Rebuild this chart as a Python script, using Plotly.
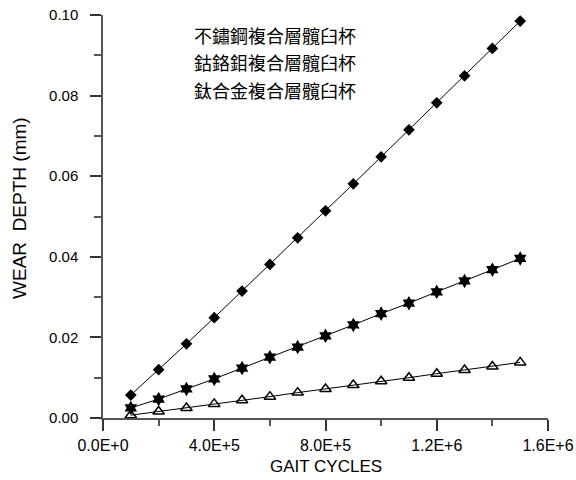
import plotly.graph_objects as go

cycles = [1e5, 2e5, 3e5, 4e5, 5e5, 6e5, 7e5, 8e5, 9e5, 1.0e6, 1.1e6, 1.2e6, 1.3e6, 1.4e6, 1.5e6]
stainless = [0.0057, 0.0120, 0.0184, 0.0249, 0.0315, 0.0381, 0.0447, 0.0514, 0.0581, 0.0648, 0.0715, 0.0782, 0.0849, 0.0917, 0.0985]
cocrmo = [0.0025, 0.0047, 0.0072, 0.0097, 0.0124, 0.0151, 0.0176, 0.0204, 0.0231, 0.0259, 0.0285, 0.0313, 0.0340, 0.0368, 0.0396]
titanium = [0.0007, 0.0016, 0.0025, 0.0035, 0.0044, 0.0053, 0.0063, 0.0072, 0.0082, 0.0091, 0.0100, 0.0110, 0.0119, 0.0128, 0.0138]
names = ["不鏽鋼複合層髖臼杯", "鈷鉻鉬複合層髖臼杯", "鈦合金複合層髖臼杯"]

x_tickvals = [0, 4e5, 8e5, 1.2e6, 1.6e6]
x_ticktext = ["0.0E+0", "4.0E+5", "8.0E+5", "1.2E+6", "1.6E+6"]
x_minor = [2e5, 6e5, 1.0e6, 1.4e6]
y_tickvals = [0.00, 0.02, 0.04, 0.06, 0.08, 0.10]
y_ticktext = ["0.00", "0.02", "0.04", "0.06", "0.08", "0.10"]
y_minor = [0.01, 0.03, 0.05, 0.07, 0.09]
x_title = "GAIT CYCLES"
y_title = "WEAR  DEPTH (mm)"

font_family = "Arial, Liberation Sans, sans-serif"
cjk_font = "Noto Sans CJK TC, sans-serif"

fig = go.Figure()
fig.add_trace(go.Scatter(x=cycles, y=stainless, name=names[0], mode="lines+markers",
                         line=dict(color="black", width=1),
                         marker=dict(symbol="diamond", size=9, color="black")))
fig.add_trace(go.Scatter(x=cycles, y=cocrmo, name=names[1], mode="lines+markers",
                         line=dict(color="black", width=1),
                         marker=dict(symbol="hexagram", size=11, color="black")))
fig.add_trace(go.Scatter(x=cycles, y=titanium, name=names[2], mode="lines+markers",
                         line=dict(color="black", width=1),
                         marker=dict(symbol="triangle-up-open", size=10, color="black",
                                     line=dict(width=1.5, color="black"))))

ann_y = [0.95, 0.884, 0.814]
for name, yy in zip(names, ann_y):
    fig.add_annotation(text=name, xref="paper", yref="paper", x=0.2, y=yy,
                       xanchor="left", yanchor="middle", showarrow=False,
                       font=dict(family=cjk_font, size=18, color="black"))

# axis titles
fig.add_annotation(text=x_title, xref="paper", yref="paper", x=0.5, y=-0.12,
                   xanchor="center", yanchor="middle", showarrow=False,
                   font=dict(family=font_family, size=17, color="black"))
fig.add_annotation(text=y_title, xref="paper", yref="paper", x=-0.189, y=0.521,
                   xanchor="center", yanchor="middle", showarrow=False, textangle=-90,
                   font=dict(family=font_family, size=19, color="black"))

fig.update_layout(
    width=576, height=480,
    margin=dict(l=103, r=28, t=15, b=62),
    paper_bgcolor="white", plot_bgcolor="white",
    showlegend=False,
    font=dict(family=font_family, size=15, color="black"),
)
fig.update_xaxes(
    range=[0, 1.6e6], showgrid=False, zeroline=False,
    showline=True, linecolor="#555", linewidth=1.5,
    ticks="outside", ticklen=11, tickcolor="#333", tickwidth=1.5,
    tickvals=x_tickvals, ticktext=x_ticktext, tickfont=dict(size=16),
    ticklabelstandoff=1,
    minor=dict(tickvals=x_minor, ticks="outside", ticklen=6, tickcolor="#555", tickwidth=1.5),
    automargin=False,
)
fig.update_yaxes(
    range=[0, 0.10], showgrid=False, zeroline=False,
    showline=True, linecolor="#555", linewidth=1.5,
    ticks="outside", ticklen=11, tickcolor="#333", tickwidth=1.5,
    tickvals=y_tickvals, ticktext=y_ticktext, tickfont=dict(size=15),
    ticklabelstandoff=9,
    minor=dict(tickvals=y_minor, ticks="outside", ticklen=7, tickcolor="#555", tickwidth=1.5),
    automargin=False,
)
fig.write_html("out.html", config={"displayModeBar": False},
               post_script="document.body.style.margin='0';document.body.style.padding='0';")
